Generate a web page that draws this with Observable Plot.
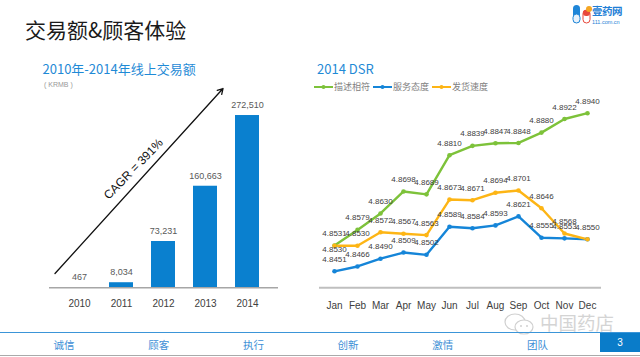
<!DOCTYPE html>
<html><head><meta charset="utf-8">
<script src="https://cdn.jsdelivr.net/npm/d3@7"></script>
<script src="https://cdn.jsdelivr.net/npm/@observablehq/plot@0.6"></script>
<style>
body{margin:0;background:#fff;}
#page{position:relative;width:640px;height:357px;overflow:hidden;font-family:"Noto Sans CJK SC","Noto Sans",sans-serif;background:#fff}
.abs{position:absolute;white-space:nowrap;line-height:1}
.chart svg{overflow:visible}
</style></head><body>
<div id="page">
  <div class="abs" style="left:25px;top:19px;font-size:21px;color:#1a1a1a;">交易额&amp;顾客体验</div>
  <div class="abs" style="left:42.5px;top:62px;font-size:13px;color:#1f8ad6;">2010年-2014年线上交易额</div>
  <div class="abs" style="left:44px;top:81px;font-size:7px;color:#999;font-family:'Liberation Sans',sans-serif;">( KRMB )</div>
  <div class="abs" style="left:317px;top:62px;font-size:13px;color:#1f8ad6;">2014 DSR</div>
  <div id="legend" class="abs" style="left:314px;top:82px;display:flex;align-items:center;gap:3px;font-size:9px;color:#808080;"></div>
  <div id="left" class="abs chart" style="left:0;top:80px;"></div>
  <div id="right" class="abs chart" style="left:300px;top:80px;"></div>
  <!-- logo -->
  <svg class="abs" style="left:572px;top:4px" width="22" height="20">
    <rect x="1" y="1" width="7" height="18" rx="3.5" fill="#1f86d8"/>
    <rect x="1" y="10" width="7" height="9" rx="3.5" fill="#e9f2fb" stroke="#1f86d8" stroke-width="1"/>
    <rect x="11" y="6" width="7" height="13" rx="3.5" fill="#fff" stroke="#e8483b" stroke-width="1"/>
    <rect x="11" y="6" width="7" height="6" rx="3" fill="#e8483b"/>
    <circle cx="17" cy="5" r="3" fill="#f5a623"/>
  </svg>
  <div class="abs" style="left:592px;top:6px;font-size:10.5px;font-weight:bold;color:#1f7fd6;letter-spacing:-0.5px">壹药网</div>
  <div class="abs" style="left:592px;top:19.5px;font-size:5.5px;color:#1f7fd6;font-family:'Liberation Sans',sans-serif;">111.com.cn</div>
  <!-- watermark -->
  <svg class="abs" style="left:503px;top:313px" width="32" height="22">
    <ellipse cx="12" cy="9" rx="10" ry="8" fill="none" stroke="#d0d0d0" stroke-width="1.2"/>
    <ellipse cx="21" cy="14" rx="9" ry="7" fill="#fff" stroke="#d0d0d0" stroke-width="1.2"/>
    <circle cx="18" cy="13" r="1" fill="#d0d0d0"/><circle cx="24" cy="13" r="1" fill="#d0d0d0"/>
  </svg>
  <div class="abs" style="left:540px;top:313px;font-size:18.5px;color:#d4d4d4;">中国药店</div>
  <!-- bottom bar -->
  <div class="abs" style="left:0;top:331.5px;width:640px;height:1.5px;background:#3b95d8"></div>
  <div id="nav"></div>
  <div class="abs" style="left:600px;top:333px;width:40px;height:19px;background:#0a7cc9;color:#fff;font-size:10px;font-family:'Liberation Sans',sans-serif;display:flex;align-items:center;justify-content:center;">3</div>
  <div class="abs" style="left:0;top:355px;width:640px;height:1px;background:#aaa"></div>
</div>
<script>
// ---- data ----
const years = ["2010", "2011", "2012", "2013", "2014"];
const sales = [467, 8034, 73231, 160663, 272510];
const salesLabels = ["467", "8,034", "73,231", "160,663", "272,510"];
const cagrText = "CAGR = 391%";

const months = ["Jan", "Feb", "Mar", "Apr", "May", "Jun", "Jul", "Aug", "Sep", "Oct", "Nov", "Dec"];
const seriesNames = ["描述相符", "服务态度", "发货速度"];
const descMatch = [4.8531, 4.8579, 4.8630, 4.8698, 4.8689, 4.8810, 4.8839, 4.8847, 4.8848, 4.8880, 4.8922, 4.8940];
const serviceAttitude = [4.8451, 4.8466, 4.8490, 4.8509, 4.8502, 4.8589, 4.8584, 4.8593, 4.8621, 4.8555, 4.8553, 4.8550];
const shippingSpeed = [4.8530, 4.8530, 4.8572, 4.8567, 4.8563, 4.8673, 4.8671, 4.8694, 4.8701, 4.8646, 4.8568, 4.8550];
const seriesColors = ["#7dc23a", "#1585d8", "#fdb515"];

const navItems = ["诚信", "顾客", "执行", "创新", "激情", "团队"];

// ---- left: bar chart ----
const barData = years.map((y, i) => ({year: y, value: sales[i], label: salesLabels[i]}));
const cagrArrow = [{from: years[0], to: years[years.length - 1], v1: 22600, v2: 315200}];
const cagrLabel = [{at: years[2], v: 183000, text: cagrText}];

const left = Plot.plot({
  width: 300, height: 240,
  marginTop: 5, marginBottom: 32.7, marginLeft: 49, marginRight: 22,
  style: {fontFamily: "'Liberation Sans', Arial, sans-serif", fontSize: "10px", color: "#404040", background: "transparent", overflow: "visible"},
  x: {domain: years, padding: 0.42, tickSize: 0, tickPadding: 12.4, label: null},
  y: {domain: [0, 320000], axis: null},
  marks: [
    Plot.barY(barData, {x: "year", y: "value", fill: "#0a80cf"}),
    Plot.ruleY([0], {stroke: "#a6a6a6", strokeWidth: 1.5}),
    Plot.text(barData, {x: "year", y: "value", text: "label", dy: -10.5, fill: "#595959", fontSize: 9}),
    Plot.arrow(cagrArrow, {x1: "from", y1: "v1", x2: "to", y2: "v2", dx: -24.5, stroke: "#111", strokeWidth: 1.3, headLength: 7}),
    Plot.text(cagrLabel, {x: "at", y: "v", text: "text", rotate: -45.8, dx: -30, dy: -3, fontSize: 12, fill: "#111"})
  ]
});
document.getElementById("left").append(left);

// ---- right: DSR lines ----
const seriesValues = [descMatch, serviceAttitude, shippingSpeed];
const dsr = seriesNames.flatMap((s, k) => months.map((m, i) => ({series: s, month: m, value: seriesValues[k][i], idx: i, k})));
const fmt = d3.format(".4f");
const isBelow = d => d.k === 2 && d.idx === 0;
// a label identical to a later series' label at the same month is drawn once
const isDuplicate = d => seriesValues.some((vals, k2) => k2 > d.k && vals[d.idx] === d.value);

const right = Plot.plot({
  width: 340, height: 240,
  marginTop: 13.3, marginBottom: 32.7, marginLeft: 19, marginRight: 39,
  style: {fontFamily: "'Liberation Sans', Arial, sans-serif", fontSize: "10px", color: "#404040", background: "transparent", overflow: "visible"},
  x: {type: "point", domain: months, padding: 0.5, tickSize: 0, tickPadding: 14, label: null},
  y: {domain: [4.84, 4.90], axis: null},
  color: {domain: seriesNames, range: seriesColors},
  marks: [
    Plot.ruleY([4.84], {stroke: "#bfbfbf", strokeWidth: 2}),
    Plot.line(dsr, {x: "month", y: "value", z: "series", stroke: "series", strokeWidth: 2.4}),
    Plot.dot(dsr, {x: "month", y: "value", fill: "series", r: 2.3}),
    Plot.text(dsr.filter(d => !isBelow(d) && !isDuplicate(d)), {x: "month", y: "value", text: d => fmt(d.value), dy: -12, fill: "#404040", fontSize: 8}),
    Plot.text(dsr.filter(isBelow), {x: "month", y: "value", text: d => fmt(d.value), dy: 4, fill: "#404040", fontSize: 8})
  ]
});
document.getElementById("right").append(right);

// ---- legend ----
const legend = document.getElementById("legend");
seriesNames.forEach((s, k) => {
  const item = document.createElement("span");
  item.style.cssText = "display:inline-flex;align-items:center;gap:1px";
  item.innerHTML = `<svg width="19" height="6"><line x1="0" y1="3" x2="19" y2="3" stroke="${seriesColors[k]}" stroke-width="2"/><circle cx="9.5" cy="3" r="2" fill="${seriesColors[k]}"/></svg><span>${s}</span>`;
  legend.append(item);
});

// ---- nav bar ----
const nav = document.getElementById("nav");
navItems.forEach((t, i) => {
  const d = document.createElement("div");
  d.className = "abs";
  d.style.cssText = `left:${64 + i * 94.7 - 30}px;width:60px;text-align:center;top:340px;font-size:10.5px;color:#3d8fd6;`;
  d.textContent = t;
  nav.append(d);
});
</script>
</body></html>
